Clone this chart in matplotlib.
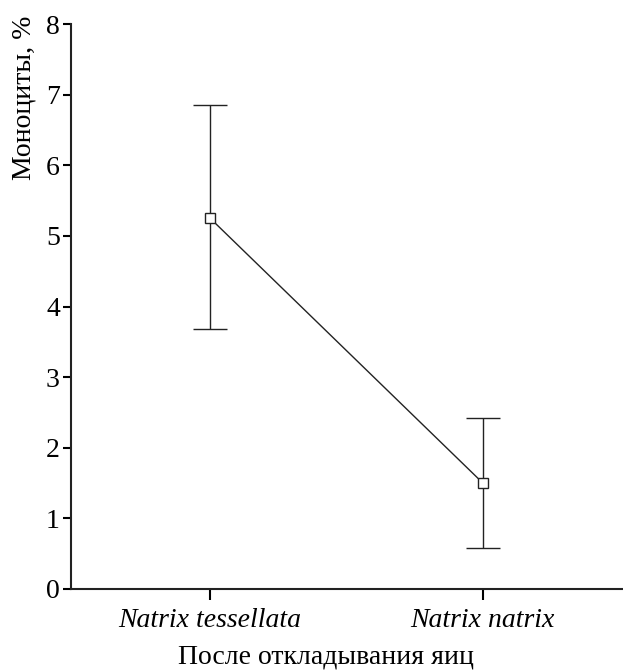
import matplotlib
matplotlib.use("Agg")
import matplotlib.pyplot as plt
import numpy as np

# Data
categories = ["Natrix tessellata", "Natrix natrix"]
means = [5.25, 1.50]
upper = [6.85, 2.42]
lower = [3.68, 0.58]
y_ticks = [0, 1, 2, 3, 4, 5, 6, 7, 8]

plt.rcParams["font.family"] = ["Liberation Serif", "DejaVu Serif"]

fig = plt.figure(figsize=(6.23, 6.71), dpi=100)
ax = fig.add_axes([71 / 623, 1 - 589 / 671, 551 / 623, 565 / 671])

x = np.arange(len(categories))
means_arr = np.array(means)
yerr = [means_arr - np.array(lower), np.array(upper) - means_arr]

ax.errorbar(x, means, yerr=yerr, color="#222222", linewidth=1.0,
            elinewidth=1.0, capsize=12, capthick=1.0,
            marker="s", markersize=6.5, markerfacecolor="white",
            markeredgecolor="#222222", markeredgewidth=1.0, zorder=3)

ax.set_xlim(-0.51, 1.51)
ax.set_ylim(0, 8)
ax.set_yticks(y_ticks)
ax.set_xticks(x)
ax.set_xticklabels(categories, fontstyle="italic")

ax.spines["top"].set_visible(False)
ax.spines["right"].set_visible(False)
for s in ("left", "bottom"):
    ax.spines[s].set_linewidth(1.5)
    ax.spines[s].set_color("#222222")

ax.tick_params(axis="y", direction="out", length=6, width=1.5, labelsize=20, pad=2)
ax.tick_params(axis="x", direction="out", length=8, width=1.5, labelsize=20, pad=6)

ax.set_ylabel("Моноциты, %", fontsize=20)
ax.set_xlabel("После откладывания яиц", fontsize=20)
ax.yaxis.set_label_coords(-0.063, 0.87)
ax.xaxis.set_label_coords(0.463, -0.098)

fig.savefig("out.png", dpi=100)
